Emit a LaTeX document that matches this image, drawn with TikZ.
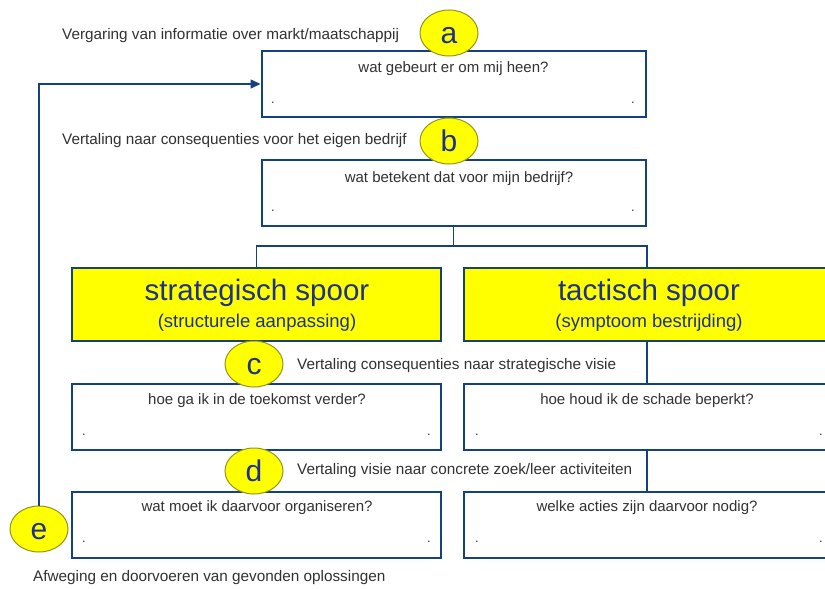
\documentclass[tikz,border=0pt]{standalone}
\usepackage{fontspec}
\setmainfont{Liberation Sans}
\usetikzlibrary{shapes.geometric,arrows.meta}
\definecolor{boxblue}{RGB}{20,66,128}
\definecolor{navy}{RGB}{30,50,140}
\definecolor{txt}{RGB}{50,50,50}
\definecolor{circ}{RGB}{150,150,30}
\definecolor{ylw}{RGB}{255,255,0}
\tikzset{
  qbox/.style={draw=boxblue,line width=2pt,fill=white,minimum height=66,inner sep=0},
  ybox/.style={draw=boxblue,line width=2pt,fill=ylw,minimum height=73,inner sep=0},
  conn/.style={draw=boxblue,line width=1.8pt},
  lab/.style={ellipse,draw=circ,line width=1pt,fill=ylw,minimum width=58,minimum height=46,inner sep=0,text=navy,font=\fontsize{30}{30}\selectfont,text height=21pt,text depth=0pt},
  qtxt/.style={text=txt,font=\fontsize{15}{16}\selectfont,inner sep=0},
  stxt/.style={text=txt,font=\fontsize{15.3}{16}\selectfont,inner sep=0},
  dotn/.style={text=txt,font=\fontsize{13}{13}\selectfont,inner sep=0},
}
\begin{document}
\begin{tikzpicture}[x=1pt,y=-1pt]
\useasboundingbox[fill=white] (0,0) rectangle (825,589);
% boxes
\node[qbox,minimum width=384] (a) at (453.5,84) {};
\node[qbox,minimum width=384] (b) at (453.5,193) {};
\node[ybox,minimum width=369] (sl) at (256.5,304.5) {};
\node[ybox,minimum width=366] (tr) at (647,304.5) {};
\node[qbox,minimum width=369] (sq) at (256.5,417) {};
\node[qbox,minimum width=366] (tq) at (647,417) {};
\node[qbox,minimum width=369] (so) at (256.5,524.5) {};
\node[qbox,minimum width=366] (to) at (647,524.5) {};
% box texts
\node[qtxt] (ta) at (453.5,69) {wat gebeurt er om mij heen?};
\node[qtxt] (tb) at (459,179) {wat betekent dat voor mijn bedrijf?};
\node[qtxt] (tsq) at (257,401) {hoe ga ik in de toekomst verder?};
\node[qtxt] (ttq) at (647,401) {hoe houd ik de schade beperkt?};
\node[qtxt] (tso) at (257,508) {wat moet ik daarvoor organiseren?};
\node[qtxt] (tto) at (647,508) {welke acties zijn daarvoor nodig?};
\node[text=navy,font=\fontsize{29.5}{30}\selectfont,inner sep=0] (sl1) at (257,293) {strategisch spoor};
\node[text=navy,font=\fontsize{18.5}{19}\selectfont,inner sep=0] (sl2) at (257,323) {(structurele aanpassing)};
\node[text=navy,font=\fontsize{29.5}{30}\selectfont,inner sep=0] (tr1) at (649,293) {tactisch spoor};
\node[text=navy,font=\fontsize{18.5}{19}\selectfont,inner sep=0] (tr2) at (649,323) {(symptoom bestrijding)};
% dots
\node[dotn] (d1) at (273,103) {.};
\node[dotn] (d2) at (633,103) {.};
\node[dotn] (d3) at (273,211) {.};
\node[dotn] (d4) at (633,211) {.};
\node[dotn] (d5) at (84,435) {.};
\node[dotn] (d6) at (429,435) {.};
\node[dotn] (d7) at (477,435) {.};
\node[dotn] (d8) at (821,435) {.};
\node[dotn] (d9) at (84,542) {.};
\node[dotn] (d10) at (429,542) {.};
\node[dotn] (d11) at (477,542) {.};
\node[dotn] (d12) at (821,542) {.};
% connectors
\coordinate (split) at ([yshift=-19pt]b.south);
\draw[conn] (b.south) -- (split);
\draw[conn] (sl.north) |- (split) -| (tr.north);
\draw[conn] (tr.south) -- (tq.north);
\draw[conn] (tq.south) -- (to.north);
% side texts
\node[stxt,anchor=west] (sa) at (62,36) {Vergaring van informatie over markt/maatschappij};
\node[stxt,anchor=west] (sb) at (62,141) {Vertaling naar consequenties voor het eigen bedrijf};
\node[stxt,anchor=west] (sc) at (297,366) {Vertaling consequenties naar strategische visie};
\node[stxt,anchor=west] (sd) at (297,471) {Vertaling visie naar concrete zoek/leer activiteiten};
\node[stxt,anchor=west] (se) at (33,578) {Afweging en doorvoeren van gevonden oplossingen};
% labels
\node[lab] (la) at (449,33) {a};
\node[lab] (lb) at (449,141) {b};
\node[lab] (lc) at (254,364) {c};
\node[lab] (ld) at (254,471) {d};
\node[lab] (le) at (39,529) {e};
% feedback
\draw[conn,line width=1.4pt,-{Triangle[length=10pt,width=9pt]}] (le.north) |- (a.west);
\end{tikzpicture}
\end{document}
